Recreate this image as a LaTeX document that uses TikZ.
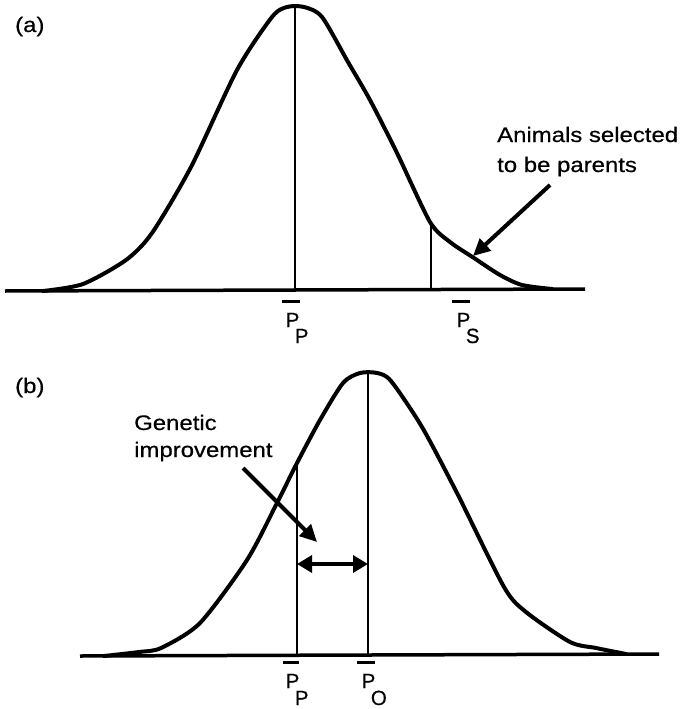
\documentclass[tikz,border=0pt]{standalone}
\usepackage{fontspec}
\setmainfont{Liberation Sans}[FakeStretch=1.14,FakeBold=0.5]
\newfontfamily\labelfont{Liberation Sans}[FakeBold=0.5]
\usetikzlibrary{arrows.meta,calc}
\begin{document}
\begin{tikzpicture}[x=1pt,y=-1pt,
  curve/.style={line width=4pt, line join=round, line cap=round},
  axis/.style={line width=3.5pt},
  mean/.style={line width=2.5pt},
  pointer/.style={line width=4pt, -{Triangle[length=17pt,width=16pt]}},
  gap/.style={line width=3.5pt, {Triangle[length=15pt,width=17pt]}-{Triangle[length=15pt,width=17pt]}},
  txt/.style={font=\fontsize{21}{24}\selectfont, inner sep=0pt, anchor=base west},
  lbl/.style={font=\labelfont\fontsize{20.5}{22}\selectfont, inner sep=0pt, anchor=base west},
  bar/.style={line width=3pt}]
\useasboundingbox (0,0) rectangle (681,709);
% ---------- panel (a) ----------
\node[txt] (la) at (15,32) {(a)};
\coordinate (a0) at (5,291);
\coordinate (a1) at (585,289);
\draw[axis] (a0) -- (a1);
\draw[curve] plot[smooth, tension=0.45] coordinates {
  (43,291) (83,284) (126,260) (152,233) (191,167) (237,70) (272,17)
  (287,7) (304,7) (322,17) (348,62) (370,100) (397,153) (430,222) (450,242)
  (474,258) (500,275) (522,285) (552,289)};
\coordinate (aPeak) at (295,7);
\coordinate (aMean) at (295,290);
\draw[mean] (aPeak) -- (aMean);
\coordinate (aCutTop) at (431,223);
\coordinate (aCutBot) at (431,290);
\draw[mean] (aCutTop) -- (aCutBot);
\node[txt] (sel1) at (497,142) {Animals selected};
\node[txt] (sel2) at (497,172) {to be parents};
\coordinate (selTail) at (550,185);
\coordinate (selTip) at (473,256);
\draw[pointer] (selTail) -- (selTip);
\node[lbl] (PPa) at (285.5,327) {P\kern-4.5pt\raisebox{-16pt}{P}};
\draw[bar] ($(PPa.base west)+(-3.5,-26)$) -- ++(18,0);
\node[lbl] (PSa) at (456.5,327) {P\kern-4.5pt\raisebox{-16pt}{S}};
\draw[bar] ($(PSa.base west)+(-4.5,-26)$) -- ++(18,0);
% ---------- panel (b) ----------
\node[txt] (lb) at (15,393) {(b)};
\coordinate (b0) at (80,656);
\coordinate (b1) at (659,654);
\draw[axis] (b0) -- (b1);
\draw[curve] plot[smooth, tension=0.45] coordinates {
  (104,656) (139,652) (161,648) (200,623) (247,560) (277,503) (297,463)
  (320,420) (343,383) (360,373) (377,373) (391,381) (422,427) (457,493)
  (504,587) (526,612) (570,642) (596,648) (626,654)};
\coordinate (bPeak) at (368,373);
\coordinate (bMean) at (368,655);
\draw[mean] (bPeak) -- (bMean);
\coordinate (bParTop) at (297,463);
\coordinate (bParBot) at (297,655);
\draw[mean] (bParTop) -- (bParBot);
\coordinate (gapL) at (297,564);
\coordinate (gapR) at (368,564);
\draw[gap] (gapL) -- (gapR);
\node[txt] (gen1) at (134,430) {Genetic};
\node[txt] (gen2) at (134,457) {improvement};
\coordinate (genTail) at (243,468);
\coordinate (genTip) at (317,542);
\draw[pointer] (genTail) -- (genTip);
\node[lbl] (PPb) at (285.5,688) {P\kern-4.5pt\raisebox{-17pt}{P}};
\draw[bar] ($(PPb.base west)+(-2.5,-26)$) -- ++(16,0);
\node[lbl] (POb) at (361.5,688) {P\kern-4.5pt\raisebox{-17pt}{O}};
\draw[bar] ($(POb.base west)+(-4.5,-26)$) -- ++(18,0);
\end{tikzpicture}
\end{document}
